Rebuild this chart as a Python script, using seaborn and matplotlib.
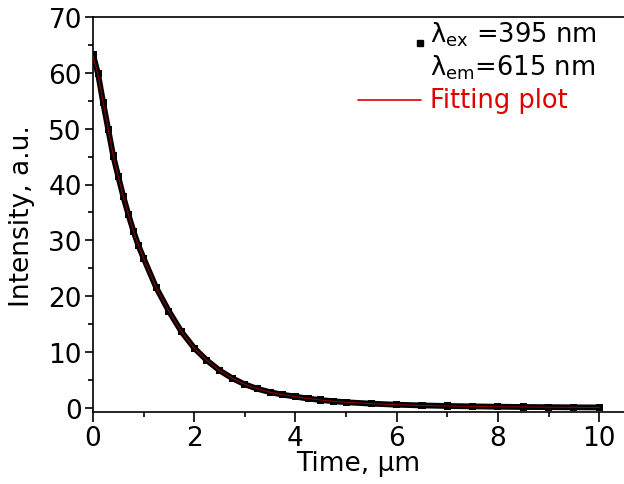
import matplotlib
matplotlib.use("Agg")
import matplotlib.pyplot as plt
import numpy as np
import pandas as pd
import seaborn as sns

# values
time_us = [0.0, 0.1, 0.2, 0.3, 0.4, 0.5, 0.6, 0.7, 0.8, 0.9, 1.0,
           1.25, 1.5, 1.75, 2.0, 2.25, 2.5, 2.75, 3.0, 3.25, 3.5, 3.75,
           4.0, 4.25, 4.5, 4.75, 5.0, 5.5, 6.0, 6.5, 7.0, 7.5, 8.0,
           8.5, 9.0, 9.5, 10.0]
intensity = [63.3, 59.8, 54.7, 49.9, 45.1, 41.4, 37.8, 34.6, 31.6, 29.0, 26.8,
             21.5, 17.3, 13.6, 10.7, 8.5, 6.7, 5.3, 4.2, 3.4, 2.8, 2.35,
             2.0, 1.65, 1.4, 1.18, 1.0, 0.75, 0.56, 0.43, 0.33, 0.26, 0.2,
             0.15, 0.12, 0.09, 0.07]
fit_intensity = [63.0, 59.6, 54.7, 49.9, 45.1, 41.4, 37.8, 34.6, 31.6, 29.0, 26.8,
                 21.5, 17.3, 13.6, 10.7, 8.5, 6.7, 5.3, 4.2, 3.4, 2.8, 2.35,
                 2.0, 1.65, 1.4, 1.18, 1.0, 0.75, 0.56, 0.43, 0.33, 0.26, 0.2,
                 0.15, 0.12, 0.09, 0.07]

x_ticks = [0, 2, 4, 6, 8, 10]
y_ticks = [0, 10, 20, 30, 40, 50, 60, 70]

df = pd.DataFrame({"time": time_us, "intensity": intensity, "fit": fit_intensity})

sns.set_theme(style="ticks")
plt.rcParams["font.family"] = ["DejaVu Sans"]
plt.rcParams["mathtext.default"] = "regular"
plt.rcParams["text.color"] = "black"
plt.rcParams["axes.labelcolor"] = "black"
plt.rcParams["xtick.color"] = "black"
plt.rcParams["ytick.color"] = "black"

fig = plt.figure(figsize=(6.24, 4.85), dpi=100)
ax = fig.add_axes([93 / 624, (485 - 413.3) / 485, (624 - 93) / 624, (413.3 - 18) / 485])

sns.lineplot(data=df, x="time", y="intensity", color="black", linewidth=4.2,
             ax=ax, zorder=2)
sns.scatterplot(data=df, x="time", y="intensity", color="black", marker="s",
                s=26, edgecolor="none", ax=ax, zorder=3)
sns.lineplot(data=df, x="time", y="fit", color="#9a0000", linewidth=0.7,
             ax=ax, zorder=4)

ax.set_xlim(0, 10.49)
ax.set_ylim(-0.8, 70)
ax.set_xticks(x_ticks)
ax.set_yticks(y_ticks)
ax.set_xticks(np.arange(1, 11, 2), minor=True)
ax.set_yticks(np.arange(5, 70, 10), minor=True)
ax.tick_params(axis="both", which="major", labelsize=19, width=1.2)
ax.tick_params(axis="x", which="major", length=7, pad=2)
ax.tick_params(axis="y", which="major", length=6, pad=2)
ax.tick_params(axis="both", which="minor", length=3.5, width=1.2)

for side in ["left", "bottom", "top"]:
    ax.spines[side].set_linewidth(1.2)
    ax.spines[side].set_color("black")
ax.spines["right"].set_visible(False)

ax.set_xlabel("Time, µm", fontsize=19)
ax.set_ylabel("Intensity, a.u.", fontsize=19)
ax.xaxis.set_label_coords(0.5, -0.095)
ax.yaxis.set_label_coords(-0.11, 0.5)

# legend, drawn by hand in figure coordinates
fig.text(430 / 624, 1 - 35 / 485, "λ$_{ex}$ =395 nm", fontsize=18.5, va="center")
fig.text(430 / 624, 1 - 68 / 485, "λ$_{em}$=615 nm", fontsize=18.5, va="center")
fig.text(430 / 624, 1 - 101 / 485, "Fitting plot", fontsize=18.5, va="center",
         color="#e00000")
fig.lines.append(plt.Line2D([420 / 624], [1 - 44 / 485], marker="s",
                            markersize=5, color="black", linestyle="none",
                            transform=fig.transFigure))
fig.lines.append(plt.Line2D([358 / 624, 421 / 624], [1 - 101 / 485, 1 - 101 / 485],
                            color="#e00000", linewidth=1.2,
                            transform=fig.transFigure))

fig.savefig("out.png", dpi=100)
